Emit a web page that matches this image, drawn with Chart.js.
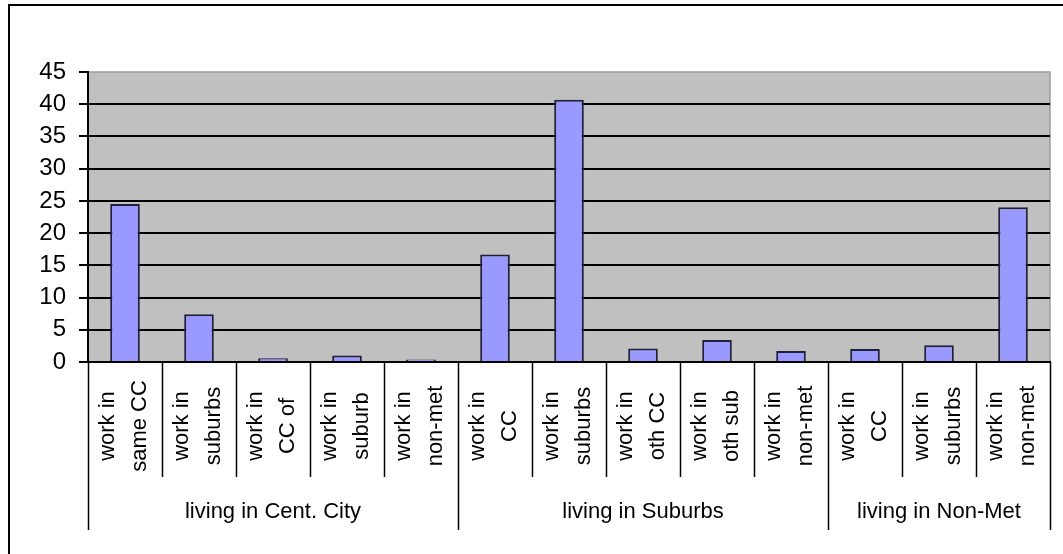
<!DOCTYPE html>
<html>
<head>
<meta charset="utf-8">
<script src="https://cdn.jsdelivr.net/npm/chart.js@4/dist/chart.umd.min.js"></script>
<style>
  body { margin: 0; background: #fff; }
  canvas { display: block; }
</style>
</head>
<body>
<canvas id="chart" width="1063" height="554"></canvas>
<script>
// two-line category labels, drawn rotated under the axis
var categories = [
  ['work in', 'same CC'],
  ['work in', 'suburbs'],
  ['work in', 'CC of'],
  ['work in', 'suburb'],
  ['work in', 'non-met'],
  ['work in', 'CC'],
  ['work in', 'suburbs'],
  ['work in', 'oth CC'],
  ['work in', 'oth sub'],
  ['work in', 'non-met'],
  ['work in', 'CC'],
  ['work in', 'suburbs'],
  ['work in', 'non-met']
];
var values = [24.5, 7.4, 0.6, 1.0, 0.4, 16.7, 40.7, 2.1, 3.4, 1.7, 2.0, 2.6, 24.0];
var groupNames = ['living in Cent. City', 'living in Suburbs', 'living in Non-Met'];
var groupSizes = [5, 5, 3];
var yMax = 45;
var yStep = 5;

var FONT = '"Liberation Sans", Arial, sans-serif';

var plotDecor = {
  id: 'plotDecor',
  beforeDraw: function(chart) {
    var ctx = chart.ctx, a = chart.chartArea;
    ctx.save();
    ctx.fillStyle = '#fff';
    ctx.fillRect(0, 0, chart.width, chart.height);
    // outer frame (left and top edges only)
    ctx.strokeStyle = '#000';
    ctx.lineWidth = 2;
    ctx.beginPath();
    ctx.moveTo(9, chart.height);
    ctx.lineTo(9, 5);
    ctx.lineTo(chart.width, 5);
    ctx.stroke();
    // grey plot area
    ctx.fillStyle = '#c0c0c0';
    ctx.fillRect(a.left, a.top, a.right - a.left, a.bottom - a.top);
    ctx.strokeStyle = '#9c9c9c';
    ctx.lineWidth = 1.5;
    ctx.strokeRect(a.left, a.top, a.right - a.left, a.bottom - a.top);
    ctx.restore();
  },
  afterDraw: function(chart) {
    var ctx = chart.ctx, a = chart.chartArea, xs = chart.scales.x;
    ctx.save();
    ctx.strokeStyle = '#000';
    ctx.lineWidth = 1.5;
    // boundaries that close a group
    var groupEdges = [0];
    groupSizes.forEach(function(n) { groupEdges.push(groupEdges[groupEdges.length - 1] + n); });
    for (var i = 0; i <= categories.length; i++) {
      var bx = Math.round(xs.getPixelForValue(i - 0.5)) + 0.5;
      var isGroup = groupEdges.indexOf(i) >= 0;
      ctx.beginPath();
      ctx.moveTo(bx, a.bottom);
      ctx.lineTo(bx, a.bottom + (isGroup ? 168 : 115));
      ctx.stroke();
    }
    // rotated category labels
    ctx.fillStyle = '#000';
    ctx.font = '22px ' + FONT;
    ctx.textAlign = 'center';
    ctx.textBaseline = 'middle';
    categories.forEach(function(lines, i) {
      var cx = xs.getPixelForValue(i);
      var offs = [-17, 15];
      lines.forEach(function(line, j) {
        ctx.save();
        ctx.translate(cx + offs[j], a.bottom + 64);
        ctx.rotate(-Math.PI / 2);
        ctx.fillText(line, 0, 0);
        ctx.restore();
      });
    });
    // group labels
    var start = 0;
    groupNames.forEach(function(name, g) {
      var mid = start + (groupSizes[g] - 1) / 2;
      ctx.fillText(name, xs.getPixelForValue(mid), a.bottom + 150);
      start += groupSizes[g];
    });
    ctx.restore();
  }
};

var ctx = document.getElementById('chart').getContext('2d');
var myChart = new Chart(ctx, {
  type: 'bar',
  data: {
    labels: categories,
    datasets: [{
      data: values,
      backgroundColor: '#9999ff',
      borderColor: '#1f1f3a',
      borderWidth: 2,
      barPercentage: 0.4,
      categoryPercentage: 1
    }]
  },
  options: {
    responsive: false,
    animation: false,
    layout: { padding: { top: 72, right: 13, bottom: 0, left: 0 } },
    plugins: {
      legend: { display: false },
      tooltip: { enabled: false }
    },
    scales: {
      x: {
        ticks: { display: false },
        grid: { display: false },
        border: { display: true, color: '#000', width: 2 },
        afterFit: function(scale) { scale.height = 192; }
      },
      y: {
        min: 0,
        max: yMax,
        ticks: {
          stepSize: yStep,
          color: '#000',
          padding: 13,
          font: { family: FONT, size: 24 }
        },
        grid: {
          color: function(c) { return c.tick && c.tick.value === yMax ? 'rgba(0,0,0,0)' : '#000'; },
          tickColor: '#000',
          lineWidth: 2,
          tickLength: 9
        },
        border: { display: true, color: '#000', width: 2 },
        afterFit: function(scale) { scale.width = 88; }
      }
    }
  },
  plugins: [plotDecor]
});
</script>
</body>
</html>
